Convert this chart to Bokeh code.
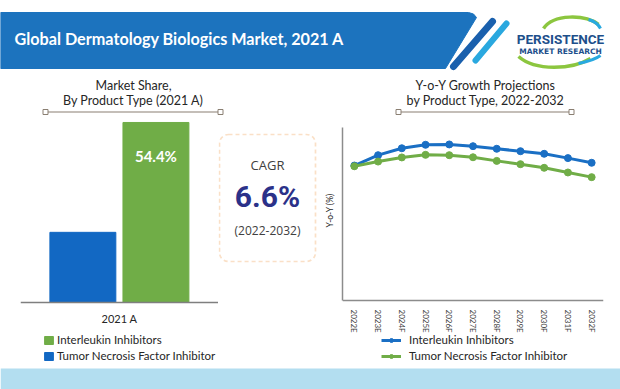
from bokeh.plotting import figure
from bokeh.layouts import column, row
from bokeh.models import (Range1d, FactorRange, Legend, LegendItem, BoxAnnotation,
                          ColumnDataSource)
from bokeh.transform import dodge
from bokeh.core.properties import value
from bokeh.embed import file_html
from bokeh.resources import INLINE

# ---------------- data ----------------
title_text = "Global Dermatology Biologics Market, 2021 A"
bar_period = ["2021 A"]
bar_series = ["Tumor Necrosis Factor Inhibitor", "Interleukin Inhibitors"]
tnf_share = [21.2]
interleukin_share = [54.4]
share_label = ["54.4%"]
bar_colors = ["#1268c3", "#70ad47"]
cagr_value = "6.6%"
cagr_period = "(2022-2032)"
years = ["2022E", "2023E", "2024F", "2025E", "2026F", "2027E",
         "2028F", "2029E", "2030F", "2031F", "2032F"]
interleukin_yoy = [7.80, 8.40, 8.80, 9.00, 9.02, 8.92, 8.77, 8.63, 8.48, 8.23, 7.96]
tnf_yoy = [7.76, 8.03, 8.27, 8.42, 8.40, 8.28, 8.07, 7.88, 7.67, 7.40, 7.13]
line_colors = ["#1a6fc4", "#70ad47"]
y_title = "Y-o-Y (%)"

SANS = "Lato"
TXT = "#262626"


def blank(w, h, xr, yr):
    p = figure(width=w, height=h, x_range=Range1d(*xr), y_range=Range1d(*yr), title=None,
               toolbar_location=None, output_backend="svg", min_border=0,
               x_axis_type=None, y_axis_type=None, outline_line_color=None,
               background_fill_color="white", border_fill_color="white")
    p.xgrid.visible = False
    p.ygrid.visible = False
    return p


def txt(p, x, y, s, size, color=TXT, font=SANS, style="normal", align="center"):
    p.text(x=[x], y=[y], text=[s], text_font=value(font), text_font_size=size,
           text_color=color, text_font_style=style, text_align=align,
           text_baseline="middle")


# ---------------- header (y 0..118) ----------------
head = blank(620, 118, (0, 620), (118, 0))
head.patch([0, 468, 473, 476, 445, 0], [12, 12, 13.5, 17, 68, 68], color="#1c73be")
head.segment([492], [21], [453], [66], line_width=7, line_color="#1a60ad", line_cap="round")
head.segment([506], [23], [475], [60], line_width=6, line_color="#2aa8df", line_cap="round")
txt(head, 14, 38, title_text, "16.2px", color="white", style="bold", align="left")
# logo
head.bezier([543], [28], [598], [24], [553], [13], [585], [14], line_width=3.5, line_color="#8cc63f")
head.bezier([588], [19], [600], [28], [595], [21], [598], [24], line_width=3, line_color="#29a9e0")
head.bezier([518], [56], [590], [58], [535], [71], [572], [69], line_width=3.5, line_color="#8cc63f")
head.bezier([578], [63], [600], [55], [588], [61], [596], [58], line_width=3, line_color="#29a9e0")
txt(head, 560, 38, "PERSISTENCE", "13.5px", color="#1d4f8b", font="Roboto", style="bold")
txt(head, 560, 50.5, "MARKET RESEARCH", "7.5px", color="#1d4f8b", font="DejaVu Sans", style="bold")
# subtitles
txt(head, 133, 85, "Market Share,", "12.5px")
txt(head, 133, 100, "By Product Type (2021 A)", "12.5px")
txt(head, 485, 85, "Y-o-Y Growth Projections", "12.5px")
txt(head, 485, 100, "by Product Type, 2022-2032", "12.5px")
head.segment([45, 398], [111.5, 111.5], [220, 571], [111.5, 111.5], line_color="#8a7f72", line_width=1.2)
head.scatter([45, 220, 398, 571], [111.5, 111.5, 111.5, 111.5], marker="square", size=5,
             fill_color="white", line_color="#8a7f72")

# ---------------- bar chart (x 0..218, y 118..366) ----------------
bar_src = ColumnDataSource(dict(period=bar_period, tnf=tnf_share, il=interleukin_share,
                                lab=share_label))
bars = figure(width=218, height=248, toolbar_location=None, output_backend="svg", title=None,
              x_range=FactorRange(*bar_period, range_padding=0),
              y_range=Range1d(-19.34, 55.6), outline_line_color=None,
              min_border_left=20, min_border_right=0, min_border_top=0, min_border_bottom=0)
r_tnf = bars.vbar(x=dodge("period", -0.185, range=bars.x_range), top="tnf", width=0.333,
                  color=bar_colors[0], source=bar_src)
r_il = bars.vbar(x=dodge("period", 0.184, range=bars.x_range), top="il", width=0.333,
                 color=bar_colors[1], source=bar_src)
bars.text(x=dodge("period", 0.184, range=bars.x_range), y="il", text="lab", source=bar_src,
          text_font=value(SANS), text_font_size="15px", text_font_style="bold",
          text_color="white", text_align="center", text_baseline="middle", y_offset=34)
bars.yaxis.visible = False
bars.xgrid.visible = False
bars.ygrid.visible = False
bars.xaxis.fixed_location = 0
bars.xaxis.axis_line_color = "#7f7f7f"
bars.xaxis.axis_line_width = 1.5
bars.xaxis.major_tick_line_color = None
bars.xaxis.minor_tick_line_color = None
bars.xaxis.major_label_text_font_size = "11px"
bars.xaxis.major_label_text_font = SANS
bars.xaxis.major_label_text_color = TXT
bars.xaxis.major_label_standoff = 4
bar_legend = Legend(items=[LegendItem(label=bar_series[1], renderers=[r_il]),
                           LegendItem(label=bar_series[0], renderers=[r_tnf])],
                    location=(23, 3.5), orientation="vertical", margin=0, padding=0,
                    spacing=2, glyph_width=11, glyph_height=10, label_height=14,
                    label_standoff=3, label_text_font=SANS, label_text_font_size="11.5px",
                    label_text_color=TXT, border_line_color=None, background_fill_alpha=0)
bars.add_layout(bar_legend)

# ---------------- CAGR box (x 218..320) ----------------
cagr = blank(102, 248, (218, 320), (366, 118))
cagr.add_layout(BoxAnnotation(left=219, right=315, top=134, bottom=261, fill_alpha=0,
                              line_color="#ee9844", line_dash="4 3", line_width=1.7,
                              border_radius=9))
txt(cagr, 267, 164, "CAGR", "13px", color="#404040", font="Open Sans")
txt(cagr, 267, 196, cagr_value, "30px", color="#2b3189", font="Roboto", style="bold")
txt(cagr, 267, 230, cagr_period, "12px", color="#404040", font="Open Sans")

# ---------------- line chart (x 320..620) ----------------
lines = figure(width=300, height=248, toolbar_location=None, output_backend="svg", title=None,
               x_range=FactorRange(*years, range_padding=0), y_range=Range1d(-3.815, 10.52),
               outline_line_color=None,
               min_border_left=22, min_border_right=17, min_border_top=0, min_border_bottom=0)
lines.xgrid.visible = False
lines.ygrid.visible = False
l1 = lines.line(years, interleukin_yoy, line_color=line_colors[0], line_width=3)
s1 = lines.scatter(years, interleukin_yoy, size=7, color=line_colors[0])
l2 = lines.line(years, tnf_yoy, line_color=line_colors[1], line_width=3)
s2 = lines.scatter(years, tnf_yoy, size=7, color=line_colors[1])
for ax in (lines.xaxis, lines.yaxis):
    ax.axis_line_color = "#8c8c8c"
    ax.axis_line_width = 1.5
    ax.major_tick_line_color = None
    ax.minor_tick_line_color = None
    ax.major_tick_out = 0
    ax.major_tick_in = 0
lines.xaxis.fixed_location = 0
lines.yaxis.bounds = (0, 10)
# the axis title sits at the middle of the 0..10 span, as a rotated label
lines.yaxis.ticker = [5.2]
lines.yaxis.major_label_overrides = {5.2: y_title}
lines.yaxis.major_label_orientation = "vertical"
lines.yaxis.major_label_standoff = 7
lines.yaxis.major_label_text_font = SANS
lines.yaxis.major_label_text_font_size = "8.5px"
lines.yaxis.major_label_text_color = TXT
lines.xaxis.major_label_orientation = "vertical"
lines.xaxis.major_label_text_font = SANS
lines.xaxis.major_label_text_font_size = "8px"
lines.xaxis.major_label_text_color = "#404040"
lines.xaxis.major_label_standoff = 9
line_legend = Legend(items=[LegendItem(label="Interleukin Inhibitors", renderers=[l1, s1]),
                            LegendItem(label="Tumor Necrosis Factor Inhibitor", renderers=[l2, s2])],
                     location=(39, 3.5), orientation="vertical", margin=0, padding=0,
                     spacing=2, glyph_width=20, glyph_height=10, label_height=14,
                     label_standoff=8, label_text_font=SANS, label_text_font_size="11.5px",
                     label_text_color=TXT, border_line_color=None, background_fill_alpha=0)
lines.add_layout(line_legend)

# ---------------- footer (y 366..389) ----------------
foot = blank(620, 23, (0, 620), (389, 366))
foot.add_layout(BoxAnnotation(left=0, right=620, top=368, bottom=389, fill_color="#b3def0",
                              fill_alpha=1, line_color=None))
txt(foot, 10, 379, "Source: Persistence Market Research", "9px", align="left")
txt(foot, 217, 379, "Note: Market shares are not depicted as per the actual scale and are only for illustration purposes.",
    "9px", align="left")

layout = column(head, row(bars, cagr, lines, spacing=0), foot, spacing=0)
open("out.html", "w").write(file_html(layout, INLINE))
